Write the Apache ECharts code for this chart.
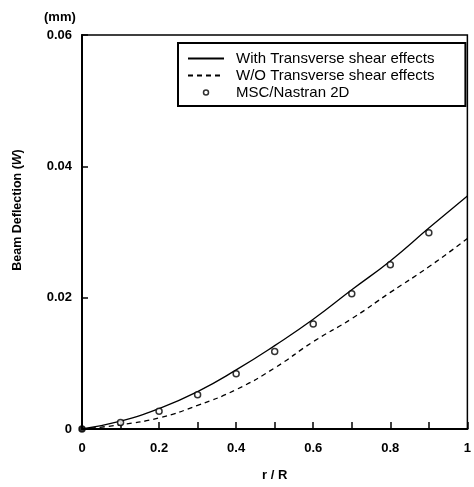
<!DOCTYPE html>
<html><head><meta charset="utf-8">
<script src="https://cdn.jsdelivr.net/npm/echarts@6/dist/echarts.min.js"></script>
<style>html,body{margin:0;padding:0;background:#fff}#c{width:474px;height:487px}</style>
</head><body><div id="c"></div>
<script>
const rR = [0, 0.1, 0.2, 0.3, 0.4, 0.5, 0.6, 0.7, 0.8, 0.9, 1.0];
const withShear = [0, 0.0012, 0.0031, 0.0057, 0.0090, 0.0127, 0.0167, 0.0212, 0.0256, 0.0306, 0.0355];
const withoutShear = [0, 0.00065, 0.0017, 0.0036, 0.0060, 0.0093, 0.0133, 0.0168, 0.0208, 0.0247, 0.0290];
const nastranX = [0, 0.1, 0.2, 0.3, 0.4, 0.5, 0.6, 0.7, 0.8, 0.9];
const nastranY = [0, 0.0010, 0.0027, 0.0052, 0.0084, 0.0118, 0.0160, 0.0206, 0.0250, 0.0299];
const xTicks = ['0', '0.2', '0.4', '0.6', '0.8', '1'];
const yTicks = ['0', '0.02', '0.04', '0.06'];
const seriesNames = ['With Transverse shear effects', 'W/O Transverse shear effects', 'MSC/Nastran 2D'];

const FONT = 'Liberation Sans, Arial, sans-serif';
const dotSvg = "<svg xmlns='http://www.w3.org/2000/svg' width='36' height='14'><circle cx='18' cy='7' r='2.5' fill='white' stroke='black' stroke-width='1.5'/></svg>";
const dotIcon = 'image://data:image/svg+xml;charset=utf-8,' + encodeURIComponent(dotSvg);

const chart = echarts.init(document.getElementById('c'));
chart.setOption({
  animation: false,
  backgroundColor: '#fff',
  title: {
    text: '(mm)', left: 39, top: 6,
    textStyle: {fontFamily: FONT, fontWeight: 'bold', fontSize: 13, color: '#000'}
  },
  grid: {left: 82, right: 2, top: 35, bottom: 55, show: true, borderColor: '#000', borderWidth: 1.5, containLabel: false},
  legend: {
    left: 178, top: 43, orient: 'vertical',
    padding: [8, 31, 6, 9], itemGap: 2,
    itemWidth: 36, itemHeight: 14,
    borderColor: '#000', borderWidth: 2, backgroundColor: '#fff',
    textStyle: {fontFamily: FONT, fontSize: 15, color: '#000', padding: [0, 0, 0, 7]},
    data: [
      {name: seriesNames[0], itemStyle: {opacity: 0}},
      {name: seriesNames[1], itemStyle: {opacity: 0}},
      {name: seriesNames[2], icon: dotIcon}
    ]
  },
  xAxis: {
    type: 'value', min: 0, max: 1, interval: 0.1,
    name: 'r / R', nameLocation: 'middle', nameGap: 40,
    nameTextStyle: {fontFamily: FONT, fontWeight: 'bold', fontSize: 13, color: '#000'},
    axisLine: {lineStyle: {color: '#000', width: 2}},
    axisTick: {inside: true, length: 7, lineStyle: {color: '#000', width: 1.5}},
    axisLabel: {
      fontFamily: FONT, fontWeight: 'bold', fontSize: 13, color: '#000', margin: 13,
      formatter: v => { const k = Math.round(v * 10); return k % 2 === 0 ? xTicks[k / 2] : ''; }
    },
    splitLine: {show: false}
  },
  yAxis: {
    type: 'value', min: 0, max: 0.06, interval: 0.02,
    name: 'Beam Deflection ({i|W})', nameLocation: 'middle', nameGap: 58, nameRotate: 90,
    nameTextStyle: {fontFamily: FONT, fontWeight: 'bold', fontSize: 12.5, color: '#000', padding: [0, 0, 0, 44],
      rich: {i: {fontFamily: FONT, fontWeight: 'bold', fontStyle: 'italic', fontSize: 12.5, color: '#000'}}},
    axisLine: {lineStyle: {color: '#000', width: 2}},
    axisTick: {inside: true, length: 6, lineStyle: {color: '#000', width: 1.5}},
    axisLabel: {
      fontFamily: FONT, fontWeight: 'bold', fontSize: 13, color: '#000', margin: 10,
      formatter: v => yTicks[Math.round(v / 0.02)]
    },
    splitLine: {show: false}
  },
  series: [
    {
      name: seriesNames[0], type: 'line', smooth: true, showSymbol: false, symbol: 'none',
      data: rR.map((x, i) => [x, withShear[i]]),
      lineStyle: {color: '#000', width: 1.3}, itemStyle: {color: '#000'}
    },
    {
      name: seriesNames[1], type: 'line', smooth: true, showSymbol: false, symbol: 'none',
      data: rR.map((x, i) => [x, withoutShear[i]]),
      lineStyle: {color: '#000', width: 1.3, type: [5, 4]}, itemStyle: {color: '#000'}
    },
    {
      name: seriesNames[2], type: 'scatter', symbol: 'circle', symbolSize: 6,
      data: nastranX.map((x, i) => i === 0
        ? {value: [x, nastranY[i]], itemStyle: {color: '#000'}}
        : [x, nastranY[i]]),
      itemStyle: {color: '#fff', borderColor: '#000', borderWidth: 1.5},
      z: 5
    }
  ]
});
</script></body></html>
